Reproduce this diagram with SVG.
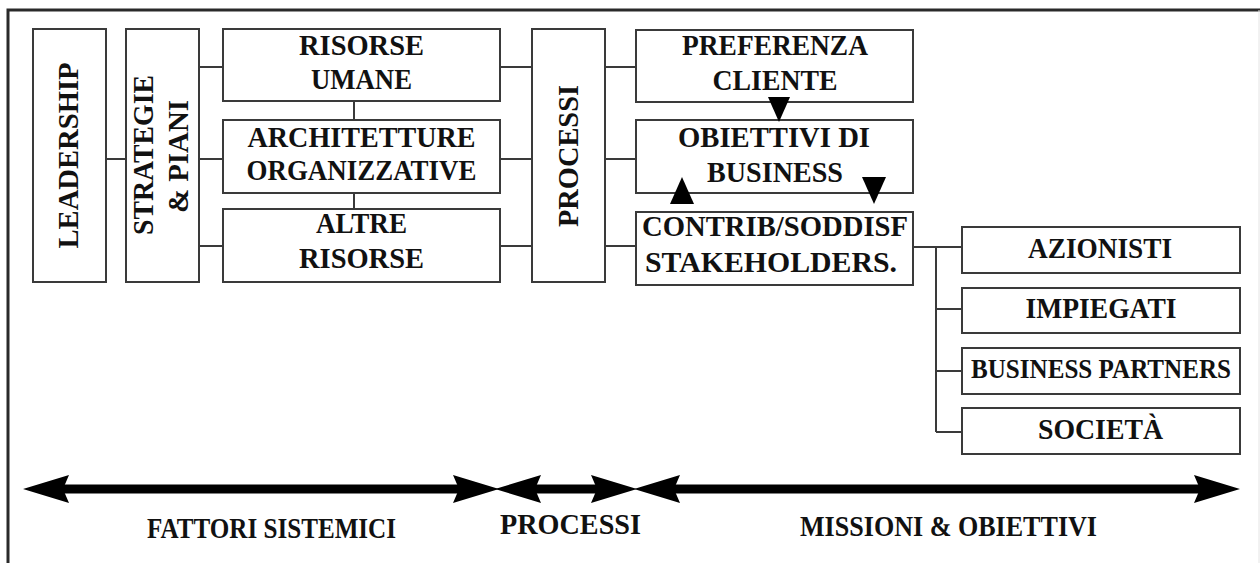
<svg xmlns="http://www.w3.org/2000/svg" width="1260" height="563" viewBox="0 0 1260 563">
<style>
.box{fill:#fff;stroke:#3a3a3a;stroke-width:2}
.t{font-family:"Liberation Serif","Times New Roman",serif;font-weight:bold;font-size:30px;fill:#111;text-anchor:middle}
.s{font-size:28px}
.c{stroke:#3a3a3a;stroke-width:2;fill:none}
.big{stroke:#000;stroke-width:9;fill:none}
.tri{fill:#000}
</style>
<defs>
<marker id="ah" viewBox="0 0 46 30" refX="6" refY="15" markerWidth="46" markerHeight="30" markerUnits="userSpaceOnUse" orient="auto-start-reverse">
<path d="M0,1 L46,15 L0,29 L6,15 Z" fill="#000"/>
</marker>
</defs>
<rect width="1260" height="563" fill="#fff"/>
<g id="frame">
<path d="M8,563 L8,10 L1260,10" stroke="#2a2a2a" stroke-width="3" fill="none"/>
<line x1="1259" y1="10" x2="1259" y2="563" stroke="#e4e4e4" stroke-width="1"/>
</g>
<g id="leadership">
<rect class="box" x="33" y="29" width="73" height="253"/>
<text class="t" transform="translate(78,155.5) rotate(-90)" textLength="186" lengthAdjust="spacingAndGlyphs">LEADERSHIP</text>
</g>
<g id="strategie">
<rect class="box" x="126" y="29" width="73" height="253"/>
<text class="t" transform="translate(153,155) rotate(-90)" textLength="160" lengthAdjust="spacingAndGlyphs">STRATEGIE</text>
<text class="t" transform="translate(188,156.5) rotate(-90)" textLength="113" lengthAdjust="spacingAndGlyphs">&amp; PIANI</text>
</g>
<g id="risorse-umane">
<rect class="box" x="223" y="29" width="277" height="72"/>
<text class="t" x="361.5" y="55" textLength="125" lengthAdjust="spacingAndGlyphs">RISORSE</text>
<text class="t" x="361.5" y="89" textLength="101" lengthAdjust="spacingAndGlyphs">UMANE</text>
</g>
<g id="architetture">
<rect class="box" x="223" y="120" width="277" height="73"/>
<text class="t" x="361.5" y="147" textLength="228" lengthAdjust="spacingAndGlyphs">ARCHITETTURE</text>
<text class="t" x="361.5" y="180" textLength="230" lengthAdjust="spacingAndGlyphs">ORGANIZZATIVE</text>
</g>
<g id="altre-risorse">
<rect class="box" x="223" y="209" width="277" height="73"/>
<text class="t" x="361.5" y="233" textLength="91" lengthAdjust="spacingAndGlyphs">ALTRE</text>
<text class="t" x="361.5" y="268" textLength="125" lengthAdjust="spacingAndGlyphs">RISORSE</text>
</g>
<g id="processi">
<rect class="box" x="532" y="29" width="73" height="253"/>
<text class="t" transform="translate(578,156) rotate(-90)" textLength="142" lengthAdjust="spacingAndGlyphs">PROCESSI</text>
</g>
<g id="preferenza">
<rect class="box" x="636" y="30" width="277" height="72"/>
<text class="t" x="775" y="55" textLength="186" lengthAdjust="spacingAndGlyphs">PREFERENZA</text>
<text class="t" x="775" y="90" textLength="125" lengthAdjust="spacingAndGlyphs">CLIENTE</text>
</g>
<g id="obiettivi">
<rect class="box" x="636" y="120" width="277" height="73"/>
<text class="t" x="774" y="147" textLength="192" lengthAdjust="spacingAndGlyphs">OBIETTIVI DI</text>
<text class="t" x="775" y="182" textLength="136" lengthAdjust="spacingAndGlyphs">BUSINESS</text>
</g>
<g id="contrib">
<rect class="box" x="636" y="212" width="277" height="73"/>
<text class="t" x="775" y="236" textLength="266" lengthAdjust="spacingAndGlyphs">CONTRIB/SODDISF</text>
<text class="t" x="771" y="272" textLength="252" lengthAdjust="spacingAndGlyphs">STAKEHOLDERS.</text>
</g>
<g id="azionisti">
<rect class="box" x="962" y="227" width="278" height="46"/>
<text class="t" x="1100" y="258" textLength="144" lengthAdjust="spacingAndGlyphs">AZIONISTI</text>
</g>
<g id="impiegati">
<rect class="box" x="962" y="288" width="278" height="45"/>
<text class="t" x="1101" y="318" textLength="151" lengthAdjust="spacingAndGlyphs">IMPIEGATI</text>
</g>
<g id="business-partners">
<rect class="box" x="962" y="348" width="278" height="46"/>
<text class="t s" x="1101" y="378" textLength="260" lengthAdjust="spacingAndGlyphs">BUSINESS PARTNERS</text>
</g>
<g id="societa">
<rect class="box" x="962" y="408" width="278" height="46"/>
<text class="t" x="1100.5" y="439" textLength="125" lengthAdjust="spacingAndGlyphs">SOCIETÀ</text>
</g>
<g id="labels">
<text class="t" x="271.5" y="538" textLength="249" lengthAdjust="spacingAndGlyphs">FATTORI SISTEMICI</text>
<text class="t" x="570.5" y="534" textLength="141" lengthAdjust="spacingAndGlyphs">PROCESSI</text>
<text class="t" x="948.5" y="536" textLength="297" lengthAdjust="spacingAndGlyphs">MISSIONI &amp; OBIETTIVI</text>
</g>
<g id="connectors">
<line class="c" x1="106" y1="159" x2="126" y2="159"/>
<line class="c" x1="199" y1="67" x2="223" y2="67"/>
<line class="c" x1="199" y1="159" x2="223" y2="159"/>
<line class="c" x1="199" y1="246" x2="223" y2="246"/>
<line class="c" x1="354" y1="101" x2="354" y2="120"/>
<line class="c" x1="354" y1="193" x2="354" y2="209"/>
<line class="c" x1="500" y1="67" x2="532" y2="67"/>
<line class="c" x1="500" y1="159" x2="532" y2="159"/>
<line class="c" x1="500" y1="246" x2="532" y2="246"/>
<line class="c" x1="605" y1="67" x2="636" y2="67"/>
<line class="c" x1="605" y1="159" x2="636" y2="159"/>
<line class="c" x1="605" y1="246" x2="636" y2="246"/>
<line class="c" x1="913" y1="247" x2="962" y2="247"/>
<line class="c" x1="936" y1="247" x2="936" y2="432"/>
<line class="c" x1="936" y1="309" x2="962" y2="309"/>
<line class="c" x1="936" y1="371" x2="962" y2="371"/>
<line class="c" x1="936" y1="432" x2="962" y2="432"/>
<polygon class="tri" points="768,97 790,97 779,122"/>
<polygon class="tri" points="670,204 694,204 682,177"/>
<polygon class="tri" points="862,177 886,177 874,204"/>
<line class="big" x1="63" y1="489" x2="459" y2="489" marker-start="url(#ah)" marker-end="url(#ah)"/>
<line class="big" x1="535" y1="489" x2="597" y2="489" marker-start="url(#ah)" marker-end="url(#ah)"/>
<line class="big" x1="674" y1="489" x2="1200" y2="489" marker-start="url(#ah)" marker-end="url(#ah)"/>
</g>
</svg>
